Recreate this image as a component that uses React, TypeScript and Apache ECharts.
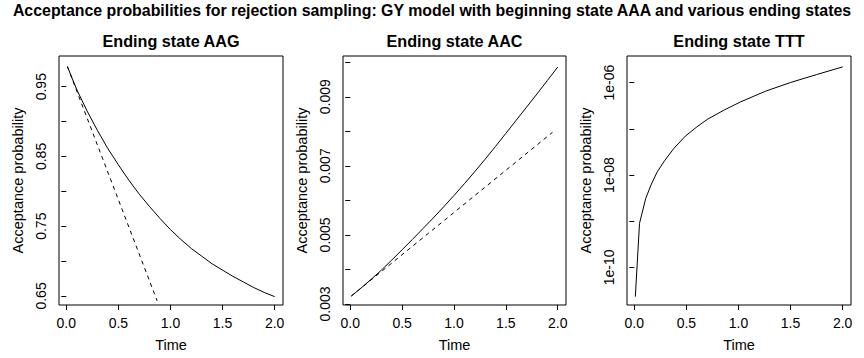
import { useEffect, useRef } from "react";
import * as echarts from "echarts";

const mainTitle =
  "Acceptance probabilities for rejection sampling: GY model with beginning state AAA and various ending states";
const panelTitles = ["Ending state AAG", "Ending state AAC", "Ending state TTT"];
const xName = "Time";
const yName = "Acceptance probability";

const xTicks = [0, 0.5, 1, 1.5, 2];

// Ending state AAG
const aagTime = [0.01, 0.1, 0.2, 0.3, 0.4, 0.5, 0.6, 0.7, 0.8, 0.9, 1.0, 1.1, 1.2, 1.3, 1.4, 1.5, 1.6, 1.7, 1.8, 1.9, 2.0];
const aagSolid = [0.979, 0.946, 0.915, 0.887, 0.861, 0.838, 0.816, 0.796, 0.778, 0.761, 0.745, 0.731, 0.718, 0.707, 0.696, 0.687, 0.678, 0.67, 0.662, 0.655, 0.649];
const aagDashTime = [0.01, 0.872];
const aagDash = [0.979, 0.643];
const aagTicks = [0.65, 0.7, 0.75, 0.8, 0.85, 0.9, 0.95];
const aagLabels = [0.65, 0.75, 0.85, 0.95];

// Ending state AAC
const aacTime = [0.01, 0.1, 0.2, 0.3, 0.4, 0.5, 0.6, 0.7, 0.8, 0.9, 1.0, 1.1, 1.2, 1.3, 1.4, 1.5, 1.6, 1.7, 1.8, 1.9, 2.0];
const aacSolid = [0.00323, 0.00345, 0.00371, 0.00398, 0.00427, 0.00457, 0.00487, 0.00518, 0.00549, 0.00581, 0.00614, 0.00648, 0.00683, 0.00719, 0.00756, 0.00794, 0.00832, 0.0087, 0.00908, 0.00947, 0.00986];
const aacDashTime = [0.01, 1.95];
const aacDash = [0.00323, 0.00797];
const aacTicks = [0.003, 0.004, 0.005, 0.006, 0.007, 0.008, 0.009, 0.01];
const aacLabels = [0.003, 0.005, 0.007, 0.009];

// Ending state TTT (log scale)
const tttTime = [0.01, 0.05, 0.11, 0.16, 0.22, 0.29, 0.38, 0.49, 0.6, 0.7, 0.86, 1.02, 1.26, 1.5, 1.75, 2.0];
const tttSolid = [2.31e-11, 8.95e-10, 3.12e-9, 6.04e-9, 1.17e-8, 2.03e-8, 3.77e-8, 6.95e-8, 1.1e-7, 1.6e-7, 2.54e-7, 3.84e-7, 6.55e-7, 1.01e-6, 1.5e-6, 2.2e-6];
const tttTicks = [1e-10, 1e-9, 1e-8, 1e-7, 1e-6];
const tttLabels = [1e-10, 1e-8, 1e-6];

const FONT = '"Liberation Sans", Arial, Helvetica, sans-serif';

const zip = (xs: number[], ys: number[]) => xs.map((x, i) => [x, ys[i]]);

export default function App() {
  const ref = useRef<HTMLDivElement>(null);
  useEffect(() => {
    const chart = echarts.init(ref.current!, undefined, { renderer: "svg", width: 864, height: 358 });
    const grids = [
      { left: 59, top: 56, width: 224, height: 249 },
      { left: 343, top: 56, width: 223, height: 249 },
      { left: 627, top: 56, width: 224, height: 249 },
    ];
    const textStyle = { color: "#000", fontFamily: FONT, fontSize: 14 };
    const xAxes = grids.map((_, i) => ({
      type: "value",
      gridIndex: i,
      min: -0.07,
      max: 2.08,
      axisLine: { show: false },
      splitLine: { show: false },
      axisTick: { show: true, length: 5, lineStyle: { color: "#000", width: 1 }, customValues: xTicks },
      axisLabel: { ...textStyle, margin: 11, customValues: xTicks, formatter: (v: number) => v.toFixed(1) },
      name: xName,
      nameLocation: "middle",
      nameGap: 32.5,
      nameTextStyle: { ...textStyle, fontSize: 14.5 },
    }));
    const log10 = (v: number) => Math.log10(v);
    const yCommon = (min: number, max: number, ticks: number[], labels: number[], fmt: (v: number) => string, i: number) => ({
      type: "value",
      gridIndex: i,
      min,
      max,
      axisLine: { show: false },
      splitLine: { show: false },
      axisTick: { show: true, length: 5, lineStyle: { color: "#000", width: 1 }, customValues: ticks },
      axisLabel: { ...textStyle, margin: 11, rotate: 90, customValues: labels, formatter: fmt },
      name: yName,
      nameLocation: "middle",
      nameGap: 33.5,
      nameTextStyle: { ...textStyle, fontSize: 14.5 },
    });
    const yAxes = [
      yCommon(0.637, 0.994, aagTicks, aagLabels, (v) => v.toFixed(2), 0),
      yCommon(0.00297, 0.01018, aacTicks, aacLabels, (v) => v.toFixed(3), 1),
      yCommon(
        -10.817,
        -5.4215,
        tttTicks.map(log10),
        tttLabels.map(log10),
        (v) => {
          const e = Math.round(v);
          const s = Math.abs(e).toString().padStart(2, "0");
          return "1e" + (e < 0 ? "-" : "+") + s;
        },
        2
      ),
    ];
    const line = (data: number[][], i: number, dashed: boolean) => ({
      type: "line",
      xAxisIndex: i,
      yAxisIndex: i,
      data,
      symbol: "none",
      showSymbol: false,
      clip: true,
      lineStyle: { color: "#000", width: 1, type: dashed ? [4, 4] : "solid" },
    });
    const series = [
      line(zip(aagTime, aagSolid), 0, false),
      line(zip(aagDashTime, aagDash), 0, true),
      line(zip(aacTime, aacSolid), 1, false),
      line(zip(aacDashTime, aacDash), 1, true),
      line(zip(tttTime, tttSolid.map(log10)), 2, false),
    ];
    const graphic = [
      {
        type: "text",
        x: 432,
        y: 10,
        style: { text: mainTitle, fill: "#000", font: `bold 15.9px ${FONT}`, align: "center", verticalAlign: "middle" },
      },
      ...grids.map((g, i) => ({
        type: "text",
        x: g.left + g.width / 2,
        y: 41,
        style: { text: panelTitles[i], fill: "#000", font: `bold 16.2px ${FONT}`, align: "center", verticalAlign: "middle" },
      })),
    ];
    chart.setOption({
      animation: false,
      backgroundColor: "#fff",
      grid: grids.map((g) => ({ ...g, show: true, borderColor: "#000", borderWidth: 1, backgroundColor: "transparent" })),
      xAxis: xAxes,
      yAxis: yAxes,
      series,
      graphic,
    });
    return () => chart.dispose();
  }, []);
  return <div ref={ref} style={{ position: "absolute", left: 0, top: 0, width: 864, height: 358 }} />;
}
